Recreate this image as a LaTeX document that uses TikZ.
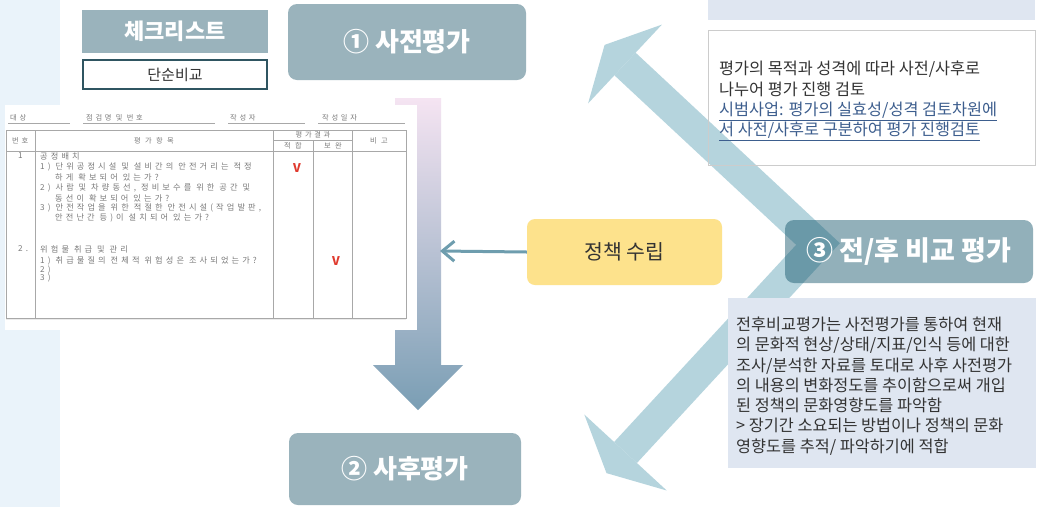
\documentclass[tikz,border=0pt]{standalone}
\usepackage{fontspec}
\setmainfont{Noto Sans CJK KR}
\newfontfamily\tblfont[LetterSpace=38]{Noto Sans CJK KR}
\usetikzlibrary{arrows.meta}
\definecolor{bandc}{HTML}{B5D4DD}
\definecolor{boxgrey}{HTML}{9AB3BC}
\definecolor{boxthree}{HTML}{0F5268}
\definecolor{descbg}{HTML}{DFE6F1}
\definecolor{yel}{HTML}{FDE28C}
\definecolor{leftbg}{HTML}{EAF3FA}
\definecolor{linkblue}{HTML}{3D5E8E}
\definecolor{txt}{HTML}{333333}
\definecolor{conn}{HTML}{6E9DAE}
\definecolor{darkteal}{HTML}{2F5561}
\definecolor{tabline}{HTML}{A8A8A8}
\definecolor{tabtxt}{HTML}{7A7A7A}
\definecolor{vred}{HTML}{E03A2E}
\definecolor{topc}{HTML}{F5E4F2}
\definecolor{midc}{HTML}{A6D0F7}
\definecolor{botc}{HTML}{7A9EB4}
\begin{document}
\begin{tikzpicture}[x=1pt,y=-1pt,
  stagebox/.style={rounded corners=9pt, fill=boxgrey, text=white, inner sep=0pt,
    font=\fontsize{26}{30}\selectfont\bfseries},
  tcell/.style={anchor=west, inner sep=0pt, text=tabtxt, font=\tblfont\fontsize{8.2}{9}\selectfont},
  hcell/.style={anchor=west, inner sep=0pt, text=tabtxt, font=\tblfont\fontsize{7.2}{8}\selectfont},
  vmark/.style={inner sep=0pt, text=vred, font=\fontsize{12}{12}\selectfont\bfseries},
  bodytext/.style={anchor=west, inner sep=0pt, align=left, text=txt,
    font=\fontsize{16.3}{20.3}\selectfont},
  tl/.style={draw=tabline, line width=0.6pt}
]
\useasboundingbox (0,0) rectangle (1048,507);
\fill[white] (0,0) rectangle (1048,507);
% left light strip
\fill[leftbg] (0,0) rectangle (60,507);

% ---- big chevron arrows ----
\coordinate (vtx) at (818,244);
\coordinate (m1) at (625,64);
\coordinate (t1) at (604.6,44.9);
\coordinate (b1a) at (661.9,24.6);
\coordinate (b1b) at (588.1,103.4);
\coordinate (m2) at (625.5,452.5);
\coordinate (t2) at (606.5,473.1);
\coordinate (b2a) at (666.7,490.5);
\coordinate (b2b) at (584.3,414.5);
\draw[bandc, line width=31pt, line join=miter] (m1) -- (vtx) -- (m2);
\fill[bandc] (b1a) -- (t1) -- (b1b) -- cycle;
\fill[bandc] (b2a) -- (t2) -- (b2b) -- cycle;

% ---- vertical gradient arrow ----
\shade[top color=topc, middle color=midc, bottom color=botc]
  (395,98) -- (441,98) -- (441,365) -- (463,365) -- (418,410) -- (373,365) -- (395,365) -- cycle;
\coordinate (shaftR) at (440,251);

% ---- checklist table image ----
\fill[white] (5,105) rectangle (417,330);
\fill[black!8] (6,318.5) rectangle (406,320);
\draw[tl] (6,130) rectangle (406,318);
\draw[tl] (35,130) -- (35,318);
\draw[tl] (273,130) -- (273,318);
\draw[tl] (352,130) -- (352,318);
\draw[tl] (313,140) -- (313,318);
\draw[tl] (273,140) -- (352,140);
\draw[tl] (6,151) -- (406,151);
\draw[tl] (8,123) -- (70,123);
\draw[tl] (83,123) -- (215,123);
\draw[tl] (228,123) -- (305,123);
\draw[tl] (318,123) -- (405,123);
\node[hcell] (h1) at (10,118) {대상};
\node[hcell] (h2) at (86,118) {점검명 및 번호};
\node[hcell] (h3) at (230,118) {작성자};
\node[hcell] (h4) at (322,118) {작성일자};
\node[hcell] (c1) at (12,141) {번호};
\node[hcell, anchor=center] (c2) at (154,141) {평 가 항 목};
\node[hcell, anchor=center] (c3) at (313,135) {평가결과};
\node[hcell, anchor=center] (c4) at (293,146) {적 합};
\node[hcell, anchor=center] (c5) at (333,146) {보 완};
\node[hcell, anchor=center] (c6) at (379,141) {비 고};
\node[tcell] (r1n) at (18,156) {1};
\node[tcell] (r1a) at (40,156) {공정배치};
\node[tcell] (r1b) at (40,167) {1) 단위공정시설 및 설비간의 안전거리는 적정};
\node[tcell] (r1c) at (55,177) {하게 확보되어 있는가?};
\node[tcell] (r1d) at (40,188) {2) 사람 및 차량동선, 정비보수를 위한 공간 및};
\node[tcell] (r1e) at (55,198) {동선이 확보되어 있는가?};
\node[tcell] (r1f) at (40,208) {3) 안전작업을 위한 적절한 안전시설(작업발판,};
\node[tcell] (r1g) at (55,218) {안전난간 등)이 설치되어 있는가?};
\node[tcell] (r2n) at (18,249) {2.};
\node[tcell] (r2a) at (40,249) {위험물 취급 및 관리};
\node[tcell] (r2b) at (40,261) {1) 취급물질의 전체적 위험성은 조사되었는가?};
\node[tcell] (r2c) at (40,270) {2)};
\node[tcell] (r2d) at (40,278) {3)};
\node[vmark] (v1) at (297,168) {V};
\node[vmark] (v2) at (336,261) {V};

% ---- checklist header ----
\node[fill=boxgrey, text=white, inner sep=0pt, minimum width=186pt, minimum height=43pt,
  font=\fontsize{22}{26}\selectfont\bfseries] (chk) at (175,31.5) {체크리스트};
\node[fill=white, draw=darkteal, line width=2pt, inner sep=0pt, minimum width=184pt,
  minimum height=29pt, text=txt, font=\fontsize{15}{18}\selectfont] (simple) at (175,74.5) {단순비교};

% ---- stage boxes ----
\node[stagebox, minimum width=238pt, minimum height=76pt] (pre) at (407,42) {① 사전평가};
\node[stagebox, minimum width=232pt, minimum height=72pt] (post) at (405,469) {② 사후평가};

% ---- policy box and connector ----
\node[rounded corners=8pt, fill=yel, inner sep=0pt, minimum width=195pt, minimum height=66pt,
  text=black!80, font=\fontsize{20.5}{24}\selectfont] (policy) at (624.5,252) {정책 수립};
\draw[conn, line width=3pt, -{Straight Barb[length=12pt,width=20pt,line width=3pt]}]
  (policy.west) -- (shaftR);

% ---- right side boxes ----
\node[fill=descbg, inner sep=0pt, minimum width=327pt, minimum height=25pt] (topbox) at (871.5,7.5) {};
\node[draw=black!20, line width=1pt, inner sep=0pt, minimum width=327pt, minimum height=135pt] (note) at (871.5,97.5) {};
\node[bodytext] (notetext) at (719,101) {평가의 목적과 성격에 따라 사전/사후로\\
나누어 평가 진행 검토\\
\textcolor{linkblue}{\underline{시범사업: 평가의 실효성/성격 검토차원에}}\\
\textcolor{linkblue}{\underline{서 사전/사후로 구분하여 평가 진행검토}}};

\node[rounded corners=9pt, fill=boxthree, fill opacity=0.45, text opacity=1, text=white,
  inner sep=0pt, minimum width=248pt, minimum height=63pt,
  font=\fontsize{27}{31}\selectfont\bfseries] (cmp) at (909,251.5) {③ 전/후 비교 평가};

\node[fill=descbg, inner sep=0pt, minimum width=308pt, minimum height=170pt] (desc) at (881.5,383) {};
\node[bodytext] (desctext) at (736,386) {전후비교평가는 사전평가를 통하여 현재\\
의 문화적 현상/상태/지표/인식 등에 대한\\
조사/분석한 자료를 토대로 사후 사전평가\\
의 내용의 변화정도를 추이함으로써 개입\\
된 정책의 문화영향도를 파악함\\
> 장기간 소요되는 방법이나 정책의 문화\\
영향도를 추적/ 파악하기에 적합};
\end{tikzpicture}
\end{document}
